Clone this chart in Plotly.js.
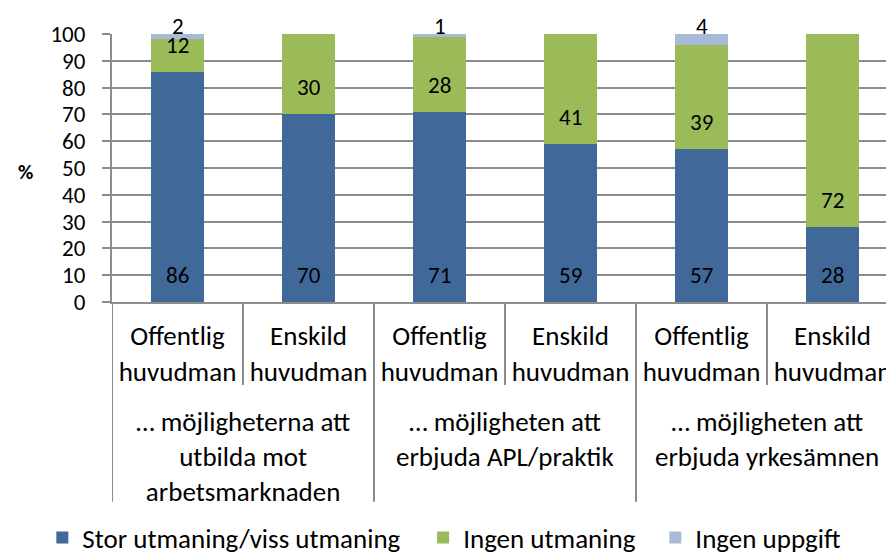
<!DOCTYPE html>
<html>
<head>
<meta charset="utf-8">
<script src="https://cdn.plot.ly/plotly-3.0.1.min.js"></script>
<style>
  body { margin: 0; background: #fff; }
  #chart { width: 886px; height: 552px; }
</style>
</head>
<body>
<div id="chart"></div>
<script>
// the three questions, two bars each
var groups = ["… möjligheterna att<br>utbilda mot<br>arbetsmarknaden",
              "… möjligheten att<br>erbjuda APL/praktik",
              "… möjligheten att<br>erbjuda yrkesämnen"];
var subLabels = ["Offentlig<br>huvudman", "Enskild<br>huvudman"];

var seriesNames = ["Stor utmaning/viss utmaning", "Ingen utmaning", "Ingen uppgift"];
var storUtmaning = [86, 70, 71, 59, 57, 28];
var ingenUtmaning = [12, 30, 28, 41, 39, 72];
var ingenUppgift = [2, 0, 1, 0, 4, 0];
var seriesColors = ["#406899", "#9BBB59", "#A9BAD9"];

var fontFam = "Calibri, Carlito, Lato, sans-serif";
var gray = "#8c8c8c";
var textSize = 27;
var numSize = 23;

var xPos = [], tickText = [];
groups.forEach(function(g, gi) {
  subLabels.forEach(function(s, si) {
    xPos.push(gi * subLabels.length + si);
    tickText.push(s);
  });
});

// one legend per series so each entry sits where the original has it
var legendIds = ["legend", "legend2", "legend3"];
var legendX = [-0.09, 0.402, 0.702];

var allSeries = [storUtmaning, ingenUtmaning, ingenUppgift];
var traces = allSeries.map(function(vals, k) {
  return {
    type: "bar",
    name: seriesNames[k],
    legend: legendIds[k],
    x: xPos,
    y: vals,
    marker: {color: seriesColors[k]},
    hoverinfo: "none"
  };
});

// value labels
var annotations = [];
for (var i = 0; i < xPos.length; i++) {
  var base = 0;
  for (var k = 0; k < allSeries.length; k++) {
    var v = allSeries[k][i];
    if (v > 0) {
      if (k < 2) {
        annotations.push({x: xPos[i], y: base, yshift: 27, text: String(v),
          showarrow: false, yanchor: "middle", font: {size: numSize, color: "#000"}});
      } else {
        annotations.push({x: xPos[i], y: base + v, yshift: 8, text: String(v),
          showarrow: false, yanchor: "middle", font: {size: numSize, color: "#000"}});
      }
    }
    base += v;
  }
}

// group labels under the sub labels
groups.forEach(function(g, gi) {
  annotations.push({
    x: gi * subLabels.length + (subLabels.length - 1) / 2,
    xref: "x", y: -0.378, yref: "paper", yanchor: "top",
    text: g, showarrow: false, align: "center",
    font: {size: textSize, color: "#000"}
  });
});

annotations.push({x: -0.124, xref: "paper", y: 0.485, yref: "paper",
  text: "<b>%</b>", showarrow: false, font: {size: 21, color: "#000"}});

// separators between categories
var shapes = [];
for (var j = 0; j <= xPos.length; j++) {
  var isGroupEdge = (j % subLabels.length === 0);
  shapes.push({
    type: "line", xref: "x", yref: "paper",
    x0: j - 0.5, x1: j - 0.5, y0: 0, y1: isGroupEdge ? -0.745 : -0.31,
    line: {color: gray, width: 2}
  });
}

var layout = {
  width: 886,
  height: 552,
  margin: {l: 112, r: 0, t: 34, b: 250, autoexpand: false},
  barmode: "stack",
  bargap: 0.6,
  paper_bgcolor: "#fff",
  plot_bgcolor: "#fff",
  font: {family: fontFam, size: textSize, color: "#000"},
  showlegend: true,
  xaxis: {
    range: [-0.5, -0.5 + 774 / 131],
    tickvals: xPos,
    ticktext: tickText,
    ticks: "",
    showgrid: false,
    zeroline: false,
    showline: true,
    linecolor: gray,
    linewidth: 2,
    automargin: false,
    ticklabeloverflow: "allow",
    ticklabelstandoff: 9,
    tickfont: {size: textSize}
  },
  yaxis: {
    range: [0, 100],
    dtick: 10,
    ticks: "outside",
    ticklen: 8,
    tickwidth: 2,
    tickcolor: gray,
    showline: true,
    linecolor: gray,
    linewidth: 2,
    showgrid: true,
    gridcolor: gray,
    gridwidth: 2,
    zeroline: false,
    automargin: false,
    ticklabelstandoff: 12,
    tickfont: {size: numSize}
  },
  annotations: annotations,
  shapes: shapes
};

legendIds.forEach(function(id, k) {
  layout[id] = {
    orientation: "h",
    x: legendX[k], xanchor: "left",
    y: 14 / 552, yref: "container", yanchor: "middle",
    font: {size: textSize},
    itemclick: false
  };
});

Plotly.newPlot("chart", traces, layout, {staticPlot: true});
</script>
</body>
</html>
